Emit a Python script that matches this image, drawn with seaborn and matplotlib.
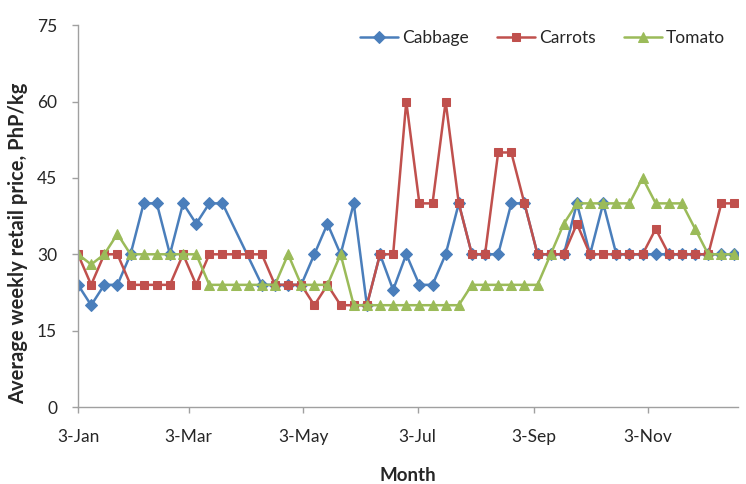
import numpy as np
import pandas as pd
import matplotlib
matplotlib.use("Agg")
import matplotlib.pyplot as plt
import matplotlib.dates as mdates
import seaborn as sns

nan = np.nan
start_date = "2011-01-03"
n_weeks = 51

cabbage = [24, 20, 24, 24, 30, 40, 40, 30, 40, 36, 40, 40, nan, nan, 24, 24, 24, 24,
           30, 36, 30, 40, 20, 30, 23, 30, 24, 24, 30, 40, 30, 30, 30, 40, 40, 30,
           30, 30, 40, 30, 40, 30, 30, 30, 30, 30, 30, 30, 30, 30, 30]
carrots = [30, 24, 30, 30, 24, 24, 24, 24, 30, 24, 30, 30, 30, 30, 30, 24, 24, 24,
           20, 24, 20, 20, 20, 30, 30, 60, 40, 40, 60, 40, 30, 30, 50, 50, 40, 30,
           30, 30, 36, 30, 30, 30, 30, 30, 35, 30, 30, 30, 30, 40, 40]
tomato = [30, 28, 30, 34, 30, 30, 30, 30, 30, 30, 24, 24, 24, 24, 24, 24, 30, 24,
          24, 24, 30, 20, 20, 20, 20, 20, 20, 20, 20, 20, 24, 24, 24, 24, 24, 24,
          30, 36, 40, 40, 40, 40, 40, 45, 40, 40, 40, 35, 30, 30, 30]

series_names = ["Cabbage", "Carrots", "Tomato"]
y_ticks = [0, 15, 30, 45, 60, 75]
x_tick_dates = ["2011-01-03", "2011-03-03", "2011-05-03", "2011-07-03", "2011-09-03", "2011-11-03"]

dates = pd.date_range(start_date, periods=n_weeks, freq="7D")
df = pd.DataFrame({"date": dates, "Cabbage": cabbage, "Carrots": carrots, "Tomato": tomato})
long = df.melt(id_vars="date", var_name="veg", value_name="price").dropna()

sns.set_style("white")
plt.rcParams["font.family"] = ["Lato", "DejaVu Sans"]

colors = {"Cabbage": "#4A7EBB", "Carrots": "#C0504D", "Tomato": "#9BBB59"}
markers = {"Cabbage": "D", "Carrots": "s", "Tomato": "^"}
msizes = {"Cabbage": 6.3, "Carrots": 6.0, "Tomato": 7.0}

fig = plt.figure(figsize=(7.46, 4.84), dpi=100)
ax = fig.add_axes([0.1046, 0.159, 0.885, 0.789])

for name in series_names:
    sub = long[long["veg"] == name]
    sns.lineplot(data=sub, x="date", y="price", ax=ax, color=colors[name],
                 marker=markers[name], markersize=msizes[name],
                 markeredgecolor=colors[name], linewidth=1.8, label=name,
                 errorbar=None, sort=True)

ax.set_ylim(0, 75)
ax.set_yticks(y_ticks)
ax.set_xlim(dates[0], dates[-1] + pd.Timedelta(days=2))
ax.set_xticks(pd.to_datetime(x_tick_dates))
ax.xaxis.set_major_formatter(mdates.DateFormatter("%-d-%b"))

for s in ["top", "right"]:
    ax.spines[s].set_visible(False)
for s in ["left", "bottom"]:
    ax.spines[s].set_color("#A0A0A0")
    ax.spines[s].set_linewidth(1.0)

ax.tick_params(axis="both", which="major", labelsize=12.5, colors="#A0A0A0",
               labelcolor="#262626", length=4, width=1, direction="out",
               left=True, bottom=True)
ax.tick_params(axis="x", pad=12)
ax.tick_params(axis="y", pad=11)

ax.set_xlabel("Month", fontsize=13.5, fontweight="bold", labelpad=16, color="#262626")
ax.set_ylabel("Average weekly retail price, PhP/kg", fontsize=14.5, fontweight="bold",
              color="#262626")
ax.yaxis.set_label_coords(-0.076, 0.43)

leg = ax.legend(loc="center", bbox_to_anchor=(0.727, 0.921), bbox_transform=fig.transFigure,
                ncol=3, frameon=False, fontsize=12.5, handlelength=2.2,
                columnspacing=1.6, handletextpad=0.25)

fig.savefig("out.png", dpi=100)
